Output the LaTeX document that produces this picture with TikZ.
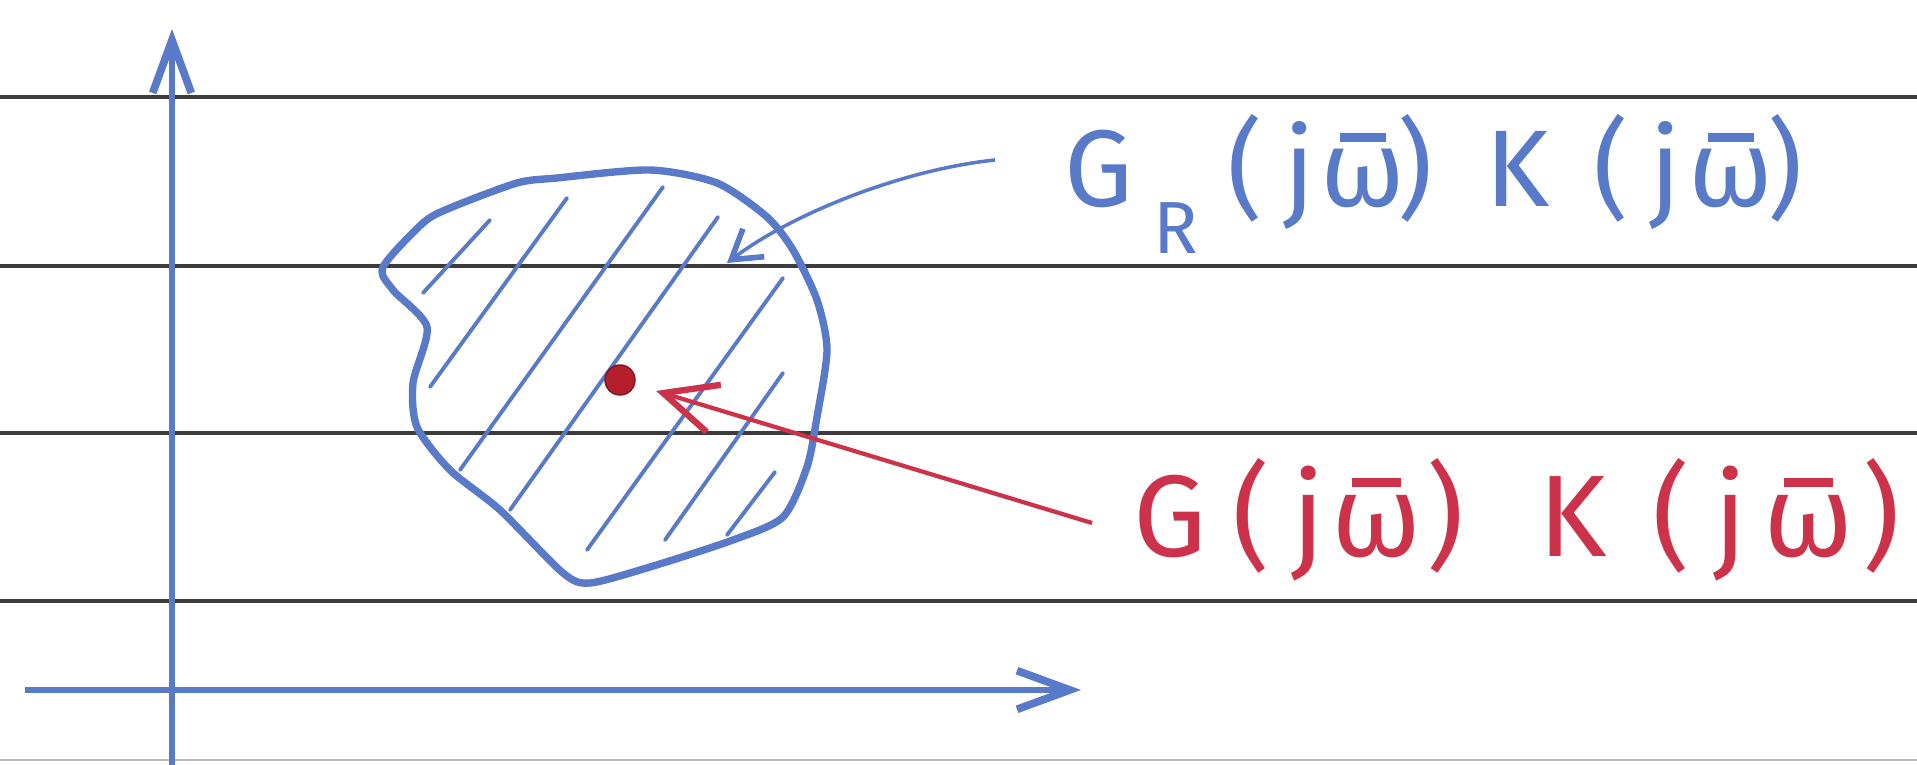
\documentclass[tikz,border=0pt]{standalone}
\usepackage{fontspec}
\setmainfont{Fira Sans}
\usetikzlibrary{arrows.meta}
\definecolor{ink}{RGB}{88,122,200}
\definecolor{redink}{RGB}{205,50,75}
\definecolor{dotred}{RGB}{180,30,45}
\definecolor{ruleclr}{RGB}{60,60,60}
\newsavebox\wbox
\newcommand\wbar{\sbox\wbox{ω}\rlap{\hbox to\wd\wbox{\hss\raisebox{0.6em}{\rule{0.42em}{0.08em}}\hss}}\usebox\wbox}
\newcommand\at[2]{\rlap{\hspace{#1cm}\makebox[0pt][c]{#2}}}
\begin{document}
\begin{tikzpicture}[x=0.01cm,y=-0.01cm,
  ruled/.style={ruleclr,line width=0.9pt},
  axisline/.style={ink,line width=1.9pt,-{Straight Barb[length=15pt,width=11pt,line width=2.2pt]}},
  outline/.style={ink,line width=2.1pt,line join=round},
  hatchline/.style={ink,line width=1.1pt,line cap=round},
  bluearrow/.style={ink,line width=1pt,-{Straight Barb[length=8pt,width=10pt,line width=1.6pt]}},
  redarrow/.style={redink,line width=1.2pt,-{Straight Barb[length=15pt,width=14pt,line width=1.8pt]},shorten >=0.22cm},
  dotnode/.style={circle,fill=dotred,draw=dotred!70!black,line width=0.4pt,minimum size=0.3cm,inner sep=0pt},
  lbl/.style={inner sep=0pt,anchor=base west},
]
\useasboundingbox[fill=white] (0,0) rectangle (1917,765);
% ruled paper
\foreach \yy in {97,266,433,601} \draw[ruled] (0,\yy) -- (1917,\yy);
\draw[ruleclr!35,line width=0.6pt] (0,760) -- (1917,760);
% axes
\coordinate (ybot) at (172,765);
\coordinate (ytop) at (172,29);
\coordinate (xleft) at (25,690);
\coordinate (xright) at (1081,690);
\draw[axisline] (ybot) -- (ytop);
\draw[axisline] (xleft) -- (xright);
% uncertainty region
\draw[outline] plot[smooth cycle,tension=0.45] coordinates {
 (383,267) (423,223) (450,208) (517,183) (557,178) (650,170) (717,183)
 (767,217) (793,250) (817,300) (827,350) (817,417) (807,467) (783,517)
 (733,540) (650,567) (590,583) (563,573) (500,510) (450,470) (417,427)
 (413,383) (427,327) (393,290)};
% hatching
\draw[hatchline] (490,220) -- (423,293);
\draw[hatchline] (567,198) -- (430,387);
\draw[hatchline] (663,187) -- (460,470);
\draw[hatchline] (718,217) -- (510,510);
\draw[hatchline] (783,278) -- (587,550);
\draw[hatchline] (783,373) -- (665,540);
\draw[hatchline] (775,472) -- (727,535);
% nominal point
\node[dotnode] (dot) at (620,380) {};
% labels
\node[lbl,text=ink,font=\fontsize{31}{31}\selectfont] (bluelbl) at (1060,207)
 {\at{0.36}{G}\at{1.13}{\raisebox{-0.46cm}{\fontsize{21}{21}\selectfont R}}%
  \at{1.83}{(}\at{2.37}{j}\at{3.00}{\wbar}\at{3.52}{)}%
  \at{4.55}{K}\at{5.48}{(}\at{6.03}{j}\at{6.68}{\wbar}\at{7.22}{)}\hspace{7.47cm}};
\node[lbl,text=redink,font=\fontsize{33}{33}\selectfont] (redlbl) at (1133,557)
 {\at{0.35}{G}\at{1.16}{(}\at{1.73}{j}\at{2.41}{\wbar}\at{3.10}{)}%
  \at{4.37}{K}\at{5.36}{(}\at{5.95}{j}\at{6.73}{\wbar}\at{7.45}{)}\hspace{7.77cm}};
% arrows
\coordinate (btail) at (995,160);
\coordinate (btip) at (727,263);
\draw[bluearrow] (btail) .. controls (900,170) and (790,215) .. (btip);
\coordinate (rtail) at (1092,523);
\draw[redarrow] (rtail) -- (dot);
\end{tikzpicture}
\end{document}
